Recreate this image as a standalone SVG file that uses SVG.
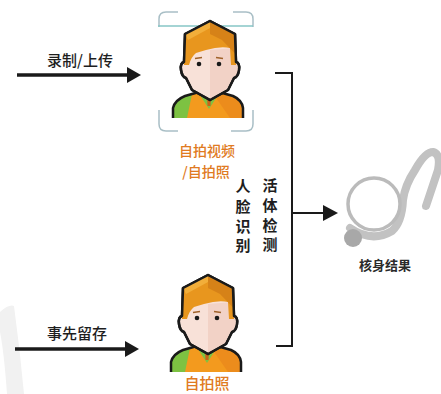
<svg xmlns="http://www.w3.org/2000/svg" width="441" height="394" viewBox="0 0 441 394">
  <style>
    .lbl { font-family: "Noto Sans CJK SC", "Noto Sans", sans-serif; font-size: 15px; fill: #1e1e1e; text-anchor: middle; font-weight: 500; }
    .org { fill: #E07A22; }
    .sm { font-size: 14px; }
    .vt { font-weight: 700; }
    .res { font-size: 13px; font-weight: 700; fill: #2a2a2a; }
    .conn { stroke: #1a1a1a; fill: none; }
    .outline { stroke: #1a1a1a; stroke-width: 2.5; stroke-linejoin: round; }
  </style>
  <defs>
    <!-- avatar drawn in local coordinates, box 0..72 x 0..98 -->
    <g id="avatar">
      <!-- shirt -->
      <path d="M1 98 L1 88 Q3 80 13 76 L27 72 L37 80 L47 72 L61 76 Q70 80 71 88 L71 98 Z" fill="#F39A1E"/>
      <path d="M40 72 L47 72 L61 76 Q70 80 71 88 L71 98 L58 98 Z" fill="#EC8C1C"/>
      <path d="M1 98 L1 88 Q3 80 13 76 L20 74 L15 98 Z" fill="#7DC242"/>
      <path d="M26 72 L37 89 L48 72 L44 72 L37 82 L30 72 Z" fill="#7DC242"/>
      <path d="M35 76 L39 76 L38.5 86 L35.5 86 Z" fill="#C9641A"/>
      <path class="outline" d="M1 98 L1 88 Q3 80 13 76 L27 72 M47 72 L61 76 Q70 80 71 88 L71 98" fill="none"/>
      <!-- head silhouette -->
      <path class="outline" d="M38 1 L63 14 L64 42 Q68 43 67 50 Q66 57 62 58 L56 70 L38 80 L20 70 L14 58 Q10 57 9 50 Q8 43 12 42 L13 14 Z" fill="#F8E1D8"/>
      <path d="M38 30 L63 28 L64 42 Q66 44 66 50 Q65 56 61 57 L55 69 L38 79 Z" fill="#F2D2C6"/>
      <!-- hair -->
      <path d="M38 1 L63 14 L64 45 L59 45 L58 28 Q48 26 34 30 L24 33 Q19 37 17 45 L12 45 L13 14 Z" fill="#E8961E"/>
      <path d="M38 1 L63 14 L63.5 34 L50 20 L38 14 Z" fill="#D68218"/>
      <path d="M13 14 L38 1 L38 8 L16 20 Z" fill="#F2AE3A"/>
      <path class="outline" d="M38 1 L63 14 L64 42 Q68 43 67 50 Q66 57 62 58 L56 70 L38 80 L20 70 L14 58 Q10 57 9 50 Q8 43 12 42 L13 14 Z" fill="none"/>
      <!-- eyes and brows -->
      <circle cx="27" cy="44" r="2.3" fill="#1a1a1a"/>
      <circle cx="47" cy="44" r="2.3" fill="#1a1a1a"/>
      <path d="M23 38.5 L30 37.5 M44 37.5 L51 38.5" stroke="#A0622A" stroke-width="1.5" fill="none"/>
    </g>
  </defs>

  <rect width="441" height="394" fill="#ffffff"/>

  <!-- faint background arc -->
  <path d="M0 312 Q9 304 14 306 Q20 350 24 394 L7 394 Q4 352 0 332 Z" fill="#f1f1f1"/>

  <!-- connectors -->
  <g id="connectors">
    <path class="conn" stroke-width="3.5" d="M17 75 H128"/>
    <polygon points="127,67 141,75 127,83" fill="#1a1a1a"/>
    <path class="conn" stroke-width="3.5" d="M15 349 H126"/>
    <polygon points="125,341 139,349 125,357" fill="#1a1a1a"/>
    <path class="conn" stroke-width="2" d="M275 73 H292 V346 H276 M292 213 H324"/>
    <polygon points="323,205 338,213 323,221" fill="#1a1a1a"/>
  </g>

  <g id="label-upload">
    <text class="lbl" x="80" y="65.5">录制/上传</text>
  </g>
  <g id="label-stored">
    <text class="lbl" x="77" y="338.5">事先留存</text>
  </g>

  <!-- selfie video node -->
  <g id="node-selfie-video">
    <g fill="none" stroke="#A9BFC6" stroke-width="1.5">
      <path d="M159 27 V19 Q159 12 166 12 H178"/>
      <path d="M233 12 H246 Q253 12 253 19 V27"/>
      <path d="M159 110 V124 Q159 131 166 131 H178"/>
      <path d="M253 110 V124 Q253 131 246 131 H231"/>
    </g>
    <path d="M158 26 H253" stroke="#86C6C6" stroke-width="1.5"/>
    <use href="#avatar" transform="translate(172,20)"/>
    <text class="lbl org sm" x="207" y="156">自拍视频</text>
    <text class="lbl org sm" x="206" y="176.5">/自拍照</text>
  </g>

  <!-- stored selfie node -->
  <g id="node-selfie-photo">
    <use href="#avatar" transform="translate(170,274)"/>
    <text class="lbl org" x="207" y="389">自拍照</text>
  </g>

  <!-- check labels -->
  <g id="label-face">
    <text class="lbl vt" x="243" y="192">人</text>
    <text class="lbl vt" x="243" y="212">脸</text>
    <text class="lbl vt" x="243" y="232">识</text>
    <text class="lbl vt" x="243" y="251">别</text>
  </g>
  <g id="label-liveness">
    <text class="lbl vt" x="270" y="191">活</text>
    <text class="lbl vt" x="270" y="211">体</text>
    <text class="lbl vt" x="270" y="231">检</text>
    <text class="lbl vt" x="270" y="250">测</text>
  </g>

  <!-- verification result node -->
  <g id="node-result">
    <path d="M350 228 Q372 243 392 231 Q402 222 403 200 Q405 185 415 170 Q425 152 433 152 Q441 154 438 170 L426 206" fill="none" stroke="#C2C2C2" stroke-width="8" stroke-linecap="round" stroke-linejoin="round"/>
    <circle cx="374" cy="204" r="26" fill="#ffffff" stroke="#BBBBBB" stroke-width="3.5"/>
    <circle cx="353" cy="238" r="9" fill="#A8A8A8"/>
    <text class="lbl res" x="385" y="270">核身结果</text>
  </g>
</svg>
